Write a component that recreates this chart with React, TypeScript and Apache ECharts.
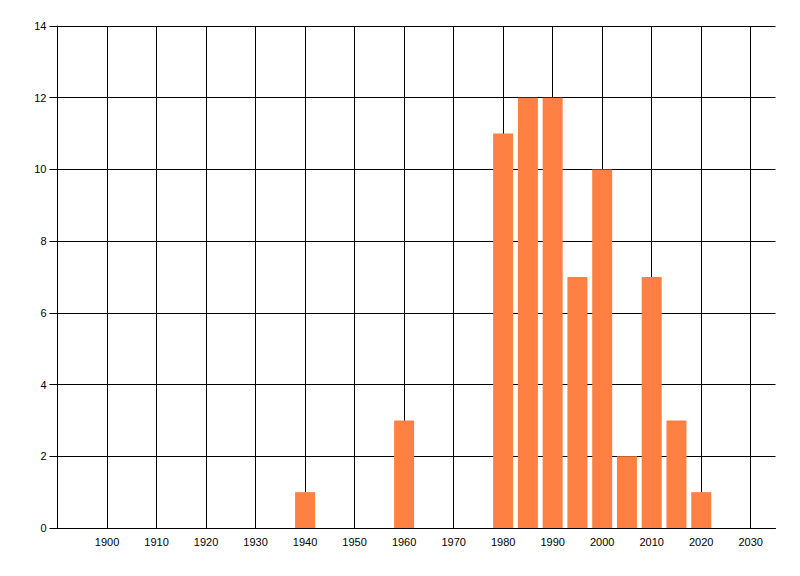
import { useEffect, useRef } from 'react';
import * as echarts from 'echarts';

const years = [1940, 1960, 1980, 1985, 1990, 1995, 2000, 2005, 2010, 2015, 2020];
const counts = [1, 3, 11, 12, 12, 7, 10, 2, 7, 3, 1];

const X_MIN = 1890;
const X_MAX = 2035;
const Y_MAX = 14;

export default function App() {
  const ref = useRef<HTMLDivElement>(null);

  useEffect(() => {
    if (!ref.current) return;
    const chart = echarts.init(ref.current, undefined, { renderer: 'svg' });

    const axisText = { color: '#000', fontSize: 11, fontFamily: 'Liberation Sans, Arial, sans-serif' };

    chart.setOption({
      animation: false,
      backgroundColor: '#fff',
      grid: { left: 57.5, right: 24.5, top: 26, bottom: 48 },
      xAxis: {
        type: 'value',
        min: X_MIN,
        max: X_MAX,
        interval: 10,
        axisLine: { show: true, onZero: false, lineStyle: { color: '#000', width: 1 } },
        axisTick: { show: false },
        axisLabel: {
          ...axisText,
          margin: 8,
          showMinLabel: false,
          showMaxLabel: false,
          formatter: (v: number) => String(v),
        },
        splitLine: { show: true, showMaxLine: false, lineStyle: { color: '#000', width: 1 } },
      },
      yAxis: {
        type: 'value',
        min: 0,
        max: Y_MAX,
        interval: 2,
        axisLine: { show: true, lineStyle: { color: '#000', width: 1 } },
        axisTick: { show: true, length: 8, lineStyle: { color: '#000', width: 1 } },
        axisLabel: { ...axisText, margin: 11 },
        splitLine: { show: true, lineStyle: { color: '#000', width: 1 } },
      },
      series: [
        {
          type: 'bar',
          data: years.map((y, i) => [y, counts[i]]),
          barWidth: 20,
          itemStyle: { color: '#FF8042' },
        },
      ],
    });

    return () => chart.dispose();
  }, []);

  return (
    <div
      ref={ref}
      style={{ position: 'fixed', left: 0, top: 0, width: 800, height: 576 }}
    />
  );
}
